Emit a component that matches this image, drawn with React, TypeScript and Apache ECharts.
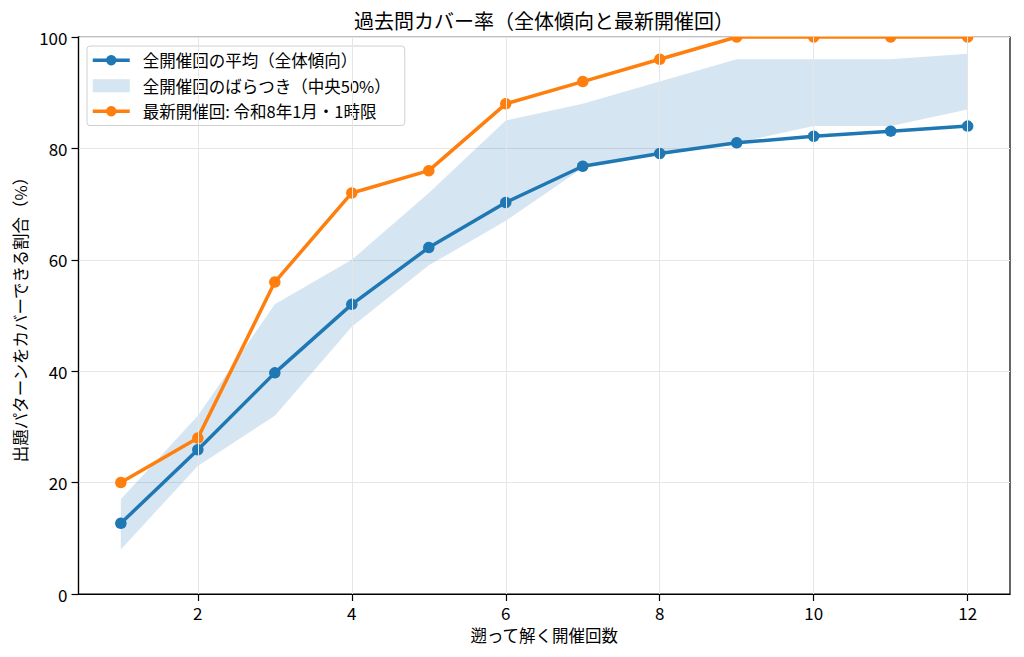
import React, { useEffect, useRef } from "react";
import * as echarts from "echarts";

const TITLE = "過去問カバー率（全体傾向と最新開催回）";
const X_NAME = "遡って解く開催回数";
const Y_NAME = "出題パターンをカバーできる割合（%）";
const NAME_MEAN = "全開催回の平均（全体傾向）";
const NAME_BAND = "全開催回のばらつき（中央50%）";
const NAME_LATEST = "最新開催回: 令和8年1月・1時限";

const rounds = [1, 2, 3, 4, 5, 6, 7, 8, 9, 10, 11, 12];
const meanValues = [12.7, 25.9, 39.7, 52.0, 62.2, 70.3, 76.8, 79.1, 81.0, 82.2, 83.1, 84.0];
const latestValues = [20, 28, 56, 72, 76, 88, 92, 96, 100, 100, 100, 100];
const bandLower = [8, 23, 32, 48, 59, 67, 76.5, 79, 81, 84, 84, 87];
const bandUpper = [17, 32, 52, 60, 72, 85, 88, 92, 96, 96, 96, 97];
const xTicks = [2, 4, 6, 8, 10, 12];
const yTicks = [0, 20, 40, 60, 80, 100];

const FONT = "'Noto Sans CJK JP', 'Noto Sans', sans-serif";
const BLUE = "#1f77b4";
const ORANGE = "#ff7f0e";
const GRID = "#e6e6e6";
const BAND = "rgba(31,119,180,0.19)";

export default function App() {
  const ref = useRef<HTMLDivElement>(null);
  useEffect(() => {
    if (!ref.current) return;
    const chart = echarts.init(ref.current, null, { renderer: "svg" });
    const pair = (vals: number[]) => rounds.map((x, i) => [x, vals[i]]);
    const bandData = rounds.map((x, i) => [x, bandLower[i], bandUpper[i]]);
    chart.setOption({
      animation: false,
      backgroundColor: "#ffffff",
      textStyle: { fontFamily: FONT },
      grid: {
        left: 78.5,
        right: 14,
        top: 37,
        bottom: 63,
        show: true,
        borderColor: "#000",
        borderWidth: 1.2,
        backgroundColor: "transparent",
      },
      graphic: [
        {
          type: "rect",
          z: 50,
          silent: true,
          shape: { x: 80, y: 0, width: 929, height: 36.4 },
          style: { fill: "#ffffff" },
        },
        {
          type: "text",
          z: 51,
          x: 544,
          y: 20,
          style: {
            text: TITLE,
            textAlign: "center",
            textVerticalAlign: "middle",
            fontSize: 20,
            fontFamily: FONT,
            fill: "#000",
          },
        },
      ],
      legend: {
        orient: "vertical",
        left: 87,
        top: 46,
        padding: [6, 14, 6, 4],
        itemGap: 9,
        itemWidth: 37,
        itemHeight: 13,
        backgroundColor: "rgba(255,255,255,0.85)",
        borderColor: "#d0d0d0",
        borderWidth: 1,
        borderRadius: 3,
        textStyle: { fontSize: 16.5, color: "#000", fontFamily: FONT, padding: [0, 0, 0, 8] },
        selectedMode: false,
        data: [
          { name: NAME_MEAN, lineStyle: { width: 3.5 } },
          { name: NAME_BAND, icon: "rect", itemStyle: { color: BAND } },
          { name: NAME_LATEST, lineStyle: { width: 3.5 } },
        ],
      },
      xAxis: {
        type: "value",
        min: 0.45,
        max: 12.55,
        name: X_NAME,
        nameLocation: "middle",
        nameGap: 33,
        nameTextStyle: { fontSize: 16.5, color: "#000", fontFamily: FONT },
        axisLine: { show: true, lineStyle: { color: "#000", width: 1.2 } },
        axisTick: { show: true, length: 7, lineStyle: { color: "#000", width: 1.2 }, customValues: xTicks },
        axisLabel: { fontSize: 17, color: "#000", margin: 10, customValues: xTicks, fontFamily: FONT },
        splitLine: { show: false },
      },
      yAxis: {
        type: "value",
        min: 0,
        max: 100,
        interval: 20,
        name: Y_NAME,
        nameLocation: "middle",
        nameGap: 50,
        nameRotate: 90,
        nameTextStyle: { fontSize: 16.5, color: "#000", fontFamily: FONT },
        axisLine: { show: true, lineStyle: { color: "#000", width: 1.2 } },
        axisTick: { show: true, length: 7, lineStyle: { color: "#000", width: 1.2 } },
        axisLabel: {
          fontSize: 17,
          color: "#000",
          margin: 11,
          fontFamily: FONT,
          formatter: (v: number) => (yTicks.includes(v) ? String(v) : ""),
        },
        splitLine: { show: true, lineStyle: { color: GRID, width: 1 } },
      },
      series: [
        {
          name: NAME_BAND,
          type: "custom",
          data: bandData,
          silent: true,
          z: 1,
          itemStyle: { color: BAND },
          renderItem: (params: any, api: any) => {
            if (params.dataIndex !== 0) return null;
            const top = rounds.map((x, i) => api.coord([x, bandUpper[i]]));
            const bottom = rounds.map((x, i) => api.coord([x, bandLower[i]])).reverse();
            return {
              type: "polygon",
              shape: { points: top.concat(bottom) },
              style: { fill: BAND, stroke: "none" },
            };
          },
          markLine: {
            silent: true,
            symbol: "none",
            label: { show: false },
            lineStyle: { color: GRID, width: 1, type: "solid" },
            data: xTicks.map((v) => ({ xAxis: v })),
          },
        },
        {
          name: NAME_MEAN,
          type: "line",
          data: pair(meanValues),
          symbol: "circle",
          symbolSize: 11.5,
          lineStyle: { color: BLUE, width: 3.5 },
          itemStyle: { color: BLUE, borderWidth: 0 },
          z: 3,
        },
        {
          name: NAME_LATEST,
          type: "line",
          data: pair(latestValues),
          symbol: "circle",
          symbolSize: 11.5,
          lineStyle: { color: ORANGE, width: 3.5 },
          itemStyle: { color: ORANGE, borderWidth: 0 },
          z: 4,
        },
      ],
    });
    return () => chart.dispose();
  }, []);
  return (
    <div
      ref={ref}
      style={{ position: "fixed", left: 0, top: 0, width: 1024, height: 657, background: "#fff" }}
    />
  );
}
